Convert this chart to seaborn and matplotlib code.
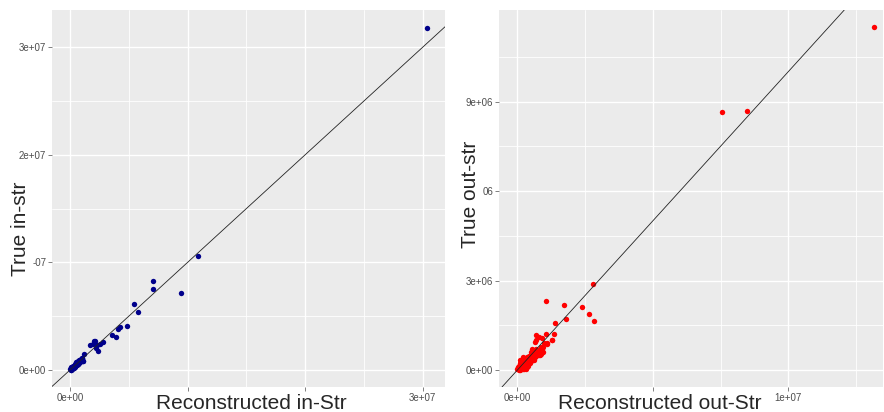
import numpy as np
import pandas as pd
import matplotlib
matplotlib.use('Agg')
import matplotlib.pyplot as plt
import seaborn as sns

# Левая панель: in-Str (в миллионах)
in_rec = [0.02, 0.05, 0.08, 0.1, 0.12, 0.15, 0.2, 0.25, 0.3, 0.3, 0.35, 0.4, 0.4, 0.45,
          0.5, 0.5, 0.55, 0.6, 0.6, 0.65, 0.7, 0.7, 0.75, 0.8, 0.85, 0.85, 0.9, 0.95,
          0.99, 1.0, 1.05, 1.1, 1.13, 1.2,
          0.1, 0.2, 0.25, 0.45, 0.55, 0.65, 0.75, 0.3, 0.9, 1.0,
          1.70, 1.93, 2.07, 2.13, 2.21, 2.35, 2.55, 2.78, 2.27, 3.54, 3.91, 4.11, 4.25,
          4.82, 5.44, 5.81, 7.03, 7.03, 9.41, 10.91, 30.41]
in_true = [0.05, 0.02, 0.0, 0.08, 0.3, 0.12, 0.25, 0.2, 0.35, 0.15, 0.28, 0.5, 0.3, 0.4,
           0.55, 0.7, 0.45, 0.7, 0.5, 0.6, 0.8, 0.55, 0.65, 0.9, 0.75, 0.93, 1.0, 0.85,
           1.08, 1.1, 0.95, 0.84, 0.84, 1.46,
           0.15, 0.1, 0.35, 0.55, 0.6, 0.75, 0.8, 0.25, 0.8, 0.9,
           2.32, 2.42, 2.70, 2.72, 2.01, 1.80, 2.39, 2.57, 2.28, 3.25, 3.07, 3.84, 3.97,
           4.06, 6.10, 5.39, 8.27, 7.56, 7.16, 10.57, 31.83]

# Правая панель: out-Str (в миллионах)
out_rec = [0.02, 0.05, 0.08, 0.1, 0.12, 0.15, 0.18, 0.2, 0.22, 0.25, 0.28, 0.3, 0.32, 0.35,
           0.38, 0.4, 0.42, 0.45, 0.48, 0.5, 0.52, 0.55, 0.58, 0.6, 0.62, 0.65, 0.68, 0.7,
           0.75, 0.78, 0.82, 0.85, 0.9, 0.95, 0.95, 0.98, 1.09, 1.28, 0.676, 0.80, 0.89,
           0.70, 0.76, 0.55, 0.45, 0.33, 0.45, 0.25, 0.15, 0.1, 0.05, 0.3, 0.2, 0.35, 0.12,
           0.4, 0.06, 0.18, 1.06, 1.34, 1.29, 0.64, 1.11,
           0.1, 0.15, 0.2, 0.25, 0.28, 0.32, 0.36, 0.4, 0.44, 0.5, 0.54, 0.58, 0.62, 0.66,
           0.7, 0.74, 0.8, 0.86, 0.88, 0.92, 0.6, 0.5, 0.42, 0.35, 0.24, 0.08, 0.03, 0.0,
           0.1, 0.2,
           1.40, 1.81, 2.83, 2.63, 2.40, 1.72, 1.07, 2.78, 7.56, 8.46, 13.18]
out_true = [0.03, 0.0, 0.05, 0.12, 0.02, 0.1, 0.2, 0.05, 0.15, 0.25, 0.1, 0.2, 0.3, 0.15,
            0.28, 0.38, 0.22, 0.35, 0.45, 0.3, 0.5, 0.4, 0.55, 0.45, 0.62, 0.5, 0.7, 0.58,
            0.65, 0.5, 0.5, 0.68, 0.6, 0.78, 0.61, 0.89, 0.87, 1.01, 1.006, 1.12, 1.06,
            1.17, 0.67, 0.70, 0.45, 0.11, 0.22, 0.02, 0.3, 0.25, 0.15, 0.05, 0.35, 0.42, 0.18,
            0.12, 0.08, 0.08, 1.20, 1.20, 1.01, 0.93, 0.89,
            0.0, 0.05, 0.12, 0.18, 0.32, 0.2, 0.1, 0.25, 0.3, 0.42, 0.32, 0.38, 0.35, 0.42,
            0.48, 0.55, 0.6, 0.55, 0.78, 0.7, 0.65, 0.6, 0.48, 0.36, 0.3, 0.2, 0.1, 0.02,
            0.35, 0.42,
            1.56, 1.72, 1.63, 1.88, 2.11, 2.17, 2.32, 2.90, 8.66, 8.70, 11.50]

df_in = pd.DataFrame({'rec': np.array(in_rec) * 1e6, 'true': np.array(in_true) * 1e6})
df_out = pd.DataFrame({'rec': np.array(out_rec) * 1e6, 'true': np.array(out_true) * 1e6})

sns.set_style('darkgrid', {'axes.facecolor': '#EBEBEB', 'grid.color': 'white'})
plt.rcParams['font.family'] = ['Liberation Sans', 'DejaVu Sans']

fig = plt.figure(figsize=(8.84, 4.12), dpi=100)
ax1 = fig.add_axes([52 / 884, 25 / 412, 393 / 884, 377 / 412])
ax2 = fig.add_axes([499 / 884, 25 / 412, 384 / 884, 377 / 412])

sns.scatterplot(data=df_in, x='rec', y='true', color='#00008B', s=15, linewidth=0, ax=ax1)
sns.scatterplot(data=df_out, x='rec', y='true', color='#FF0000', s=15, linewidth=0, ax=ax2)

for ax in (ax1, ax2):
    ax.axline((0, 0), slope=1, color='#222222', lw=0.6, zorder=1)
    ax.set_xlabel('')
    ax.set_ylabel('')
    for s in ax.spines.values():
        s.set_visible(False)
    ax.grid(which='major', color='white', lw=1.0)
    ax.grid(which='minor', color='white', lw=0.6)
    ax.tick_params(which='major', length=2.7, width=0.5, color='#4D4D4D',
                   labelcolor='#4D4D4D', labelsize=7, pad=1.5, bottom=True, left=True)
    ax.tick_params(which='minor', length=0)

ax1.set_xlim(-1.53e6, 31.9e6)
ax1.set_ylim(-1.58e6, 33.46e6)
ax1.set_xticks([0, 1e7, 2e7, 3e7], ['0e+00', '', '', '3e+07'])
ax1.set_yticks([0, 1e7, 2e7, 3e7], ['0e+00', '-07', '2e+07', '3e+07'])
ax1.set_xticks([0.5e7, 1.5e7, 2.5e7], minor=True)
ax1.set_yticks([0.5e7, 1.5e7, 2.5e7], minor=True)

ax2.set_xlim(-0.68e6, 13.5e6)
ax2.set_ylim(-0.57e6, 12.07e6)
ax2.set_xticks([0, 5e6, 1e7], ['0e+00', '', '1e+07'])
ax2.set_yticks([0, 3e6, 6e6, 9e6], ['0e+00', '3e+06', '06', '9e+06'])
ax2.set_xticks([2.5e6, 7.5e6, 12.5e6], minor=True)
ax2.set_yticks([1.5e6, 4.5e6, 7.5e6, 10.5e6], minor=True)

fig.text(251 / 884, 3 / 412, 'Reconstructed in-Str', ha='center', va='baseline', fontsize=15)
fig.text(660 / 884, 3 / 412, 'Reconstructed out-Str', ha='center', va='baseline', fontsize=15)
fig.text(21 / 884, (412 - 228.5) / 412, 'True in-str', rotation=90, ha='center', va='center', fontsize=15)
fig.text(471 / 884, (412 - 194) / 412, 'True out-str', rotation=90, ha='center', va='center', fontsize=15)

plt.savefig('out.png', dpi=100)
